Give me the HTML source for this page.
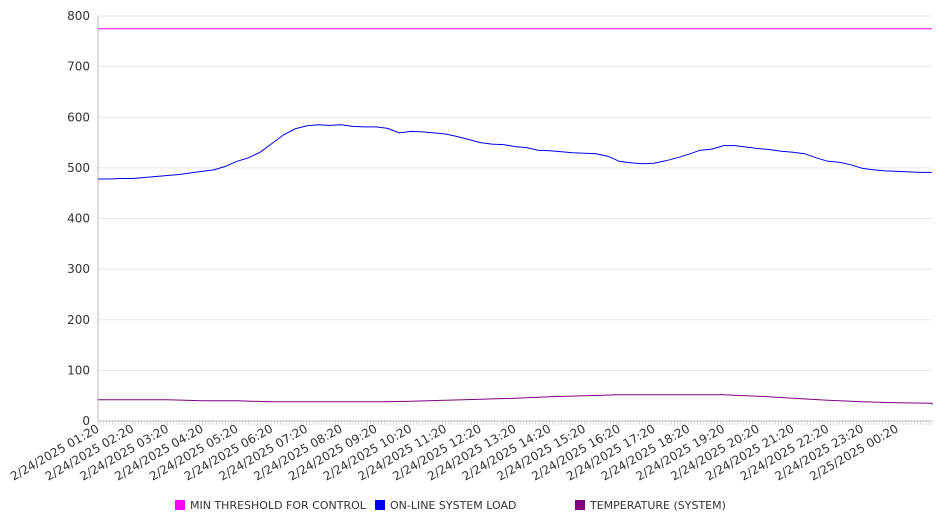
<!DOCTYPE html>
<html><head><meta charset="utf-8"><style>
body{margin:0;background:#fff;font-family:"Liberation Sans","DejaVu Sans",sans-serif}
svg text{font-family:"DejaVu Sans","Liberation Sans",sans-serif;fill:#333}
</style></head><body>
<svg id="chart" width="946" height="526" xmlns="http://www.w3.org/2000/svg"></svg>
<script>
const loadValues=[478,478,479,479,481,483,485,487,490,493,496,503,513,520,531,548,565,577,583,585,584,585,582,581,581,578,569,572,571,569,567,562,556,550,547,546,542,540,535,534,532,530,529,528,523,513,510,508,509,514,520,527,535,537,544,544,541,538,536,533,531,528,520,513,511,506,499,496,494,493,492,491,491];
const tempValues=[42,42,42,40,40,38,38,38,38,39,41,43,45,48,50,52,52,52,52,49,45,41,38,36,35,34,32];
const thresholdValue=775;
const yTicks=[0,100,200,300,400,500,600,700,800];
const xTickLabels=["2/24/2025 01:20","2/24/2025 02:20","2/24/2025 03:20","2/24/2025 04:20","2/24/2025 05:20","2/24/2025 06:20","2/24/2025 07:20","2/24/2025 08:20","2/24/2025 09:20","2/24/2025 10:20","2/24/2025 11:20","2/24/2025 12:20","2/24/2025 13:20","2/24/2025 14:20","2/24/2025 15:20","2/24/2025 16:20","2/24/2025 17:20","2/24/2025 18:20","2/24/2025 19:20","2/24/2025 20:20","2/24/2025 21:20","2/24/2025 22:20","2/24/2025 23:20","2/25/2025 00:20"];
const seriesNames=["MIN THRESHOLD FOR CONTROL","ON-LINE SYSTEM LOAD","TEMPERATURE (SYSTEM)"];
const seriesColors=["#ff00ff","#0000ee","#800080"];

const svg=document.getElementById('chart');const NS="http://www.w3.org/2000/svg";
const X0=98,X1=932,Y0=421,Y1=16,TMAX=1440;
const xs=m=>X0+(X1-X0)*m/TMAX;
const ys=v=>Y0-(Y0-Y1)*v/800;
function mk(t,a,p){const e=document.createElementNS(NS,t);for(const k in a)e.setAttribute(k,a[k]);(p||svg).appendChild(e);return e;}
yTicks.forEach(v=>{
 if(v>0){const g=mk('line',{x1:X0,x2:X1,y1:ys(v),y2:ys(v),stroke:'#e6e6e6'});
 
 }
 const t=mk('text',{x:90,y:ys(v)+4,'text-anchor':'end','font-size':12});t.textContent=v;
 
 
});
const ax=mk('line',{x1:X0,x2:X0,y1:Y1,y2:Y0,stroke:'#bbb'});


const bx=mk('line',{x1:X0,x2:X1,y1:Y0,y2:Y0,stroke:'#bbb'});


for(let m=0;m<=TMAX;m+=5){const l=mk('line',{x1:xs(m),x2:xs(m),y1:Y0,y2:Y0+4,stroke:'#ccc','stroke-width':0.7});
 
 }
xTickLabels.forEach((s,i)=>{const x=xs(i*60);
 const t=mk('text',{x:x+2,y:Y0+10,'text-anchor':'end','font-size':12,transform:`rotate(-30 ${x+2} ${Y0+10})`});t.textContent=s;
 
 });
function line(vals,step,color,name){
 const d=vals.map((v,i)=>(i?'L':'M')+xs(Math.min(i*step,TMAX)).toFixed(1)+' '+ys(v).toFixed(1)).join(' ');
 const p=mk('path',{d:d,fill:'none',stroke:color,'stroke-width':1});
 
 }
line([thresholdValue,thresholdValue],TMAX,seriesColors[0],'threshold-line');
line(loadValues,20,seriesColors[1],'load-line');
line(tempValues,60,seriesColors[2],'temperature-line');
const lx=[175,375,575];
seriesNames.forEach((n,i)=>{
 const g=mk('g',{});
 
 
 mk('rect',{x:lx[i],y:500,width:10,height:10,fill:seriesColors[i]},g);
 const t=mk('text',{x:lx[i]+15,y:509,'font-size':11},g);t.textContent=n;
});
</script>
</body></html>
